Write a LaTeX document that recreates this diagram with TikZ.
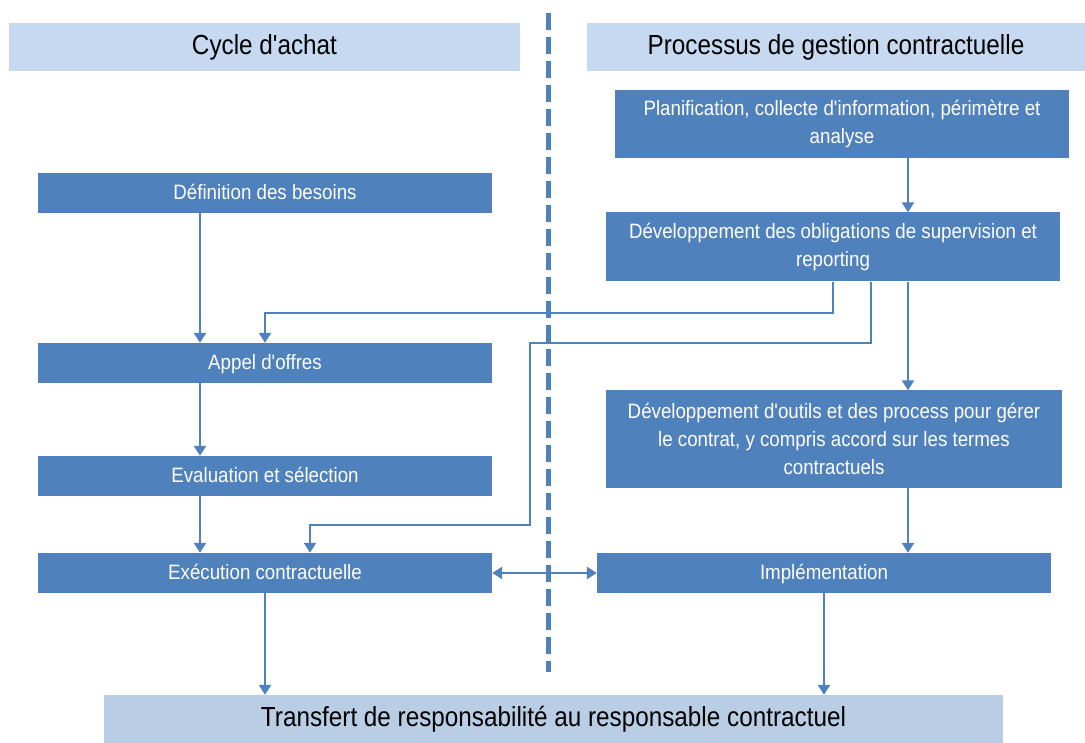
\documentclass[tikz,border=0pt]{standalone}
\usepackage{fontspec}
\setmainfont{Liberation Sans}
\newfontfamily\boxfont{Liberation Sans}[FakeStretch=0.9]
\newfontfamily\hdrfont{Liberation Sans}[FakeStretch=0.88]
\usetikzlibrary{arrows.meta}
\definecolor{boxblue}{HTML}{4F81BD}
\definecolor{hdrblue}{HTML}{C6D9F1}
\definecolor{barblue}{HTML}{B9CDE5}
\newcommand{\eqh}{\vphantom{Égp}}
\begin{document}
\begin{tikzpicture}[x=1pt,y=-1pt,
  box/.style={fill=boxblue, inner sep=0pt, text=white, align=center,
    font=\boxfont\fontsize{20.8}{27.8}\selectfont},
  hdr/.style={fill=hdrblue, inner sep=0pt, text=black,
    font=\hdrfont\fontsize{27.6}{30}\selectfont},
  bar/.style={fill=barblue, inner sep=0pt, text=black,
    font=\hdrfont\fontsize{27.6}{30}\selectfont},
  conn/.style={draw=boxblue, line width=2.9pt, line join=miter,
    -{Triangle[width=12pt,length=10pt]}},
  both/.style={draw=boxblue, line width=2.9pt,
    {Triangle[width=12pt,length=10pt]}-{Triangle[width=12pt,length=10pt]}},
  divider/.style={draw=boxblue, line width=5pt, dash pattern=on 17pt off 7pt}
]
\useasboundingbox (0,0) rectangle (1085,743);

% headers
\node[hdr, minimum width=511pt, minimum height=48pt] (hL) at (264.5,47.5) {Cycle d'achat};
\node[hdr, minimum width=498pt, minimum height=48pt] (hR) at (836,47.5) {Processus de gestion contractuelle};

% divider
\coordinate (dtop) at (548,13);
\coordinate (dbot) at (548,672);
\draw[divider] (dtop) -- (dbot);

% left column
\node[box, minimum width=454pt, minimum height=40pt] (def) at (265,193) {\eqh Définition des besoins};
\node[box, minimum width=454pt, minimum height=40pt] (appel) at (265,363) {\eqh Appel d'offres};
\node[box, minimum width=454pt, minimum height=40pt] (eval) at (265,476) {\eqh Evaluation et sélection};
\node[box, minimum width=454pt, minimum height=40pt] (exec) at (265,573) {\eqh Exécution contractuelle};

% right column
\node[box, minimum width=454pt, minimum height=68pt] (plan) at (842,124) {Planification, collecte d'information, périmètre et\\analyse};
\node[box, minimum width=454pt, minimum height=69pt] (oblig) at (833,247) {Développement des obligations de supervision et\\reporting};
\node[box, minimum width=456pt, minimum height=97pt] (outils) at (834,439) {Développement d'outils et des process pour gérer\\le contrat, y compris accord sur les termes\\contractuels};
\node[box, minimum width=454pt, minimum height=40pt] (impl) at (824,573) {\eqh Implémentation};

% bottom bar
\node[bar, minimum width=899pt, minimum height=48pt] (transfer) at (553.5,719) {Transfert de responsabilité au responsable contractuel};

% helper coordinates
\coordinate (cx) at (908,0);
\coordinate (lx) at (200,0);
\coordinate (a1) at (833,313);
\coordinate (b1) at (265,0);
\coordinate (a2) at (871,343);
\coordinate (a3) at (530,343);
\coordinate (a4) at (530,525);
\coordinate (b2) at (310,0);

% right chain
\draw[conn] (plan.south -| cx) -- (oblig.north -| cx);
\draw[conn] (oblig.south -| cx) -- (outils.north -| cx);
\draw[conn] (outils.south -| cx) -- (impl.north -| cx);

% left chain
\draw[conn] (def.south -| lx) -- (appel.north -| lx);
\draw[conn] (appel.south -| lx) -- (eval.north -| lx);
\draw[conn] (eval.south -| lx) -- (exec.north -| lx);

% cross links
\draw[conn] (oblig.south -| a1) -- (a1) -| (appel.north -| b1);
\draw[conn] (oblig.south -| a2) -- (a2) -- (a3) -- (a4) -| (exec.north -| b2);

\draw[both] (exec.east) -- (impl.west);

% to bottom
\draw[conn] (exec.south) -- (transfer.north -| exec.south);
\draw[conn] (impl.south) -- (transfer.north -| impl.south);
\end{tikzpicture}
\end{document}
